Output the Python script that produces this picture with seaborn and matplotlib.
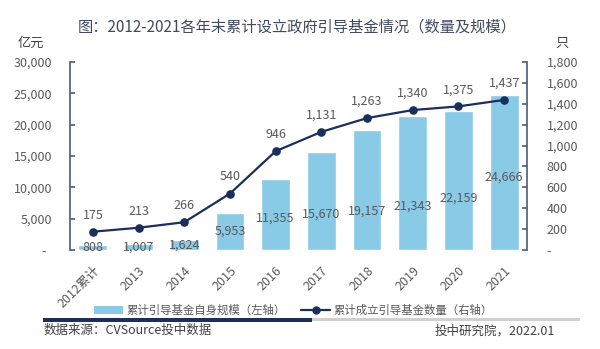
import matplotlib
matplotlib.use("Agg")
import matplotlib.pyplot as plt
import seaborn as sns
import pandas as pd
from matplotlib.lines import Line2D
from matplotlib.patches import Patch, Rectangle
from matplotlib.ticker import FixedLocator

# Data
years = ["2012累计", "2013", "2014", "2015", "2016", "2017", "2018", "2019", "2020", "2021"]
fund_scale = [808, 1007, 1624, 5953, 11355, 15670, 19157, 21343, 22159, 24666]   # 亿元
fund_count = [175, 213, 266, 540, 946, 1131, 1263, 1340, 1375, 1437]             # 只
# vertical position of each bar's value label, as a share of the bar height
scale_label_frac = [0.5, 0.5, 0.5, 0.5, 0.45, 0.37, 0.32, 0.33, 0.37, 0.47]

left_ticks = [0, 5000, 10000, 15000, 20000, 25000, 30000]
right_ticks = [0, 200, 400, 600, 800, 1000, 1200, 1400, 1600, 1800]

df = pd.DataFrame({"year": years, "scale": fund_scale, "count": fund_count})

sns.set_theme(style="white")
plt.rcParams["font.family"] = ["Noto Sans CJK SC", "DejaVu Sans"]

BAR = "#89cae6"
NAVY = "#1b2f5c"
SPINE = "#4b5b7c"
TXT = "#595959"

fig = plt.figure(figsize=(6.0, 3.49), dpi=100)
ax = fig.add_axes([0.1167, 0.2837, 0.7616, 0.5386])

sns.barplot(data=df, x="year", y="scale", color=BAR, width=0.63,
            saturation=1, ax=ax, zorder=2)

ax2 = ax.twinx()
sns.pointplot(data=df, x="year", y="count", color=NAVY, markers="o",
              linestyles="-", markersize=5, linewidth=1.6, ax=ax2, zorder=3)

ax.set_xlim(-0.5, len(years) - 0.5)
ax.set_ylim(0, 30000)
ax2.set_ylim(0, 1800)

def fmt(v):
    return "-" if v == 0 else f"{v:,}"

ax.yaxis.set_major_locator(FixedLocator(left_ticks))
ax.set_yticklabels([fmt(v) + ("  " if v == 0 else "") for v in left_ticks])
ax2.yaxis.set_major_locator(FixedLocator(right_ticks))
ax2.set_yticklabels([fmt(v) for v in right_ticks])

for a in (ax, ax2):
    a.set_xlabel("")
    a.set_ylabel("")
    for s in ("top", "bottom"):
        a.spines[s].set_visible(False)
ax.spines["right"].set_visible(False)
ax2.spines["left"].set_visible(False)
ax.spines["left"].set_color(SPINE)
ax.spines["left"].set_linewidth(1.2)
ax2.spines["right"].set_color(SPINE)
ax2.spines["right"].set_linewidth(1.2)

ax.tick_params(axis="y", direction="in", length=3.5, width=1.2, color=SPINE,
               pad=13, labelsize=9, labelcolor=TXT, left=True)
ax2.tick_params(axis="y", direction="in", length=3.5, width=1.2, color=SPINE,
                pad=14, labelsize=9, labelcolor=TXT, right=True)
ax.tick_params(axis="x", length=0, pad=10, labelsize=9, labelcolor=TXT)
for lbl in ax.get_xticklabels():
    lbl.set_rotation(45)
    lbl.set_ha("right")
    lbl.set_rotation_mode("anchor")

# value labels on the bars
for i, (v, f) in enumerate(zip(fund_scale, scale_label_frac)):
    ax.text(i, v * f, f"{v:,}", ha="center", va="center", fontsize=9,
            color=TXT, zorder=4)

# value labels above the line markers
for i, v in enumerate(fund_count):
    ax2.annotate(f"{v:,}", (i, v), xytext=(0, 12), textcoords="offset points",
                 ha="center", va="center", fontsize=9, color=TXT, zorder=5)

# titles and axis units
fig.text(0.495, 0.923, "图：2012-2021各年末累计设立政府引导基金情况（数量及规模）",
         ha="center", va="center", fontsize=11, color="#404a5e")
fig.text(0.03, 0.877, "亿元", ha="left", va="center", fontsize=9.5, color="#404040")
fig.text(0.936, 0.877, "只", ha="center", va="center", fontsize=9.5, color="#404040")

# legend
handles = [
    Patch(facecolor=BAR, edgecolor="none"),
    Line2D([0], [0], color=NAVY, lw=1.6, marker="o", markersize=5),
]
labels = ["累计引导基金自身规模（左轴）", "累计成立引导基金数量（右轴）"]
fig.legend(handles, labels, loc="center", bbox_to_anchor=(0.489, 0.112), ncol=2,
           frameon=False, fontsize=8.2, labelcolor=TXT, handlelength=2.6,
           handleheight=0.7, handletextpad=0.3, columnspacing=1.3)

# footer rule and source notes
fig.add_artist(Rectangle((0.072, 0.078), 0.448, 0.011, transform=fig.transFigure,
                         facecolor=NAVY, edgecolor="none"))
fig.add_artist(Rectangle((0.52, 0.080), 0.447, 0.008, transform=fig.transFigure,
                         facecolor="#d0d0d0", edgecolor="none"))
fig.text(0.072, 0.052, "数据来源：CVSource投中数据", ha="left", va="center",
         fontsize=9, color="#404040")
fig.text(0.925, 0.052, "投中研究院，2022.01", ha="right", va="center",
         fontsize=9, color="#404040")

fig.savefig("out.png", dpi=100, facecolor="white")
